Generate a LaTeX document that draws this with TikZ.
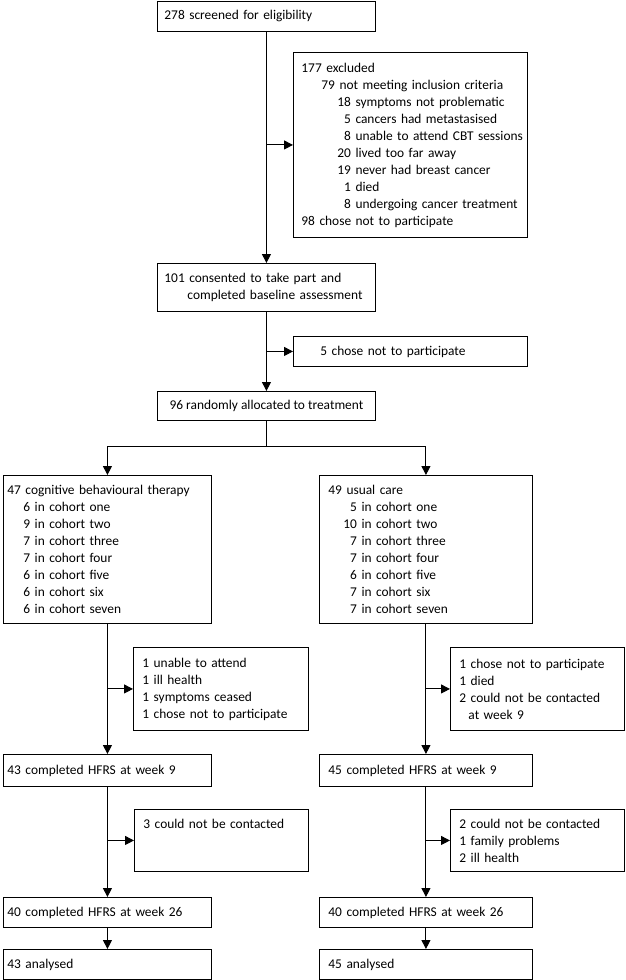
\documentclass[tikz,border=0pt]{standalone}
\usepackage{fontspec}
\setmainfont{Carlito}
\usepackage{tikz}
\usetikzlibrary{arrows.meta}
\tikzstyle{arrow} = [line width=1pt,-{Triangle[length=9pt,width=9pt]}]
\tikzstyle{line} = [line width=1pt]
\tikzstyle{box} = [draw, line width=0.9pt, anchor=north west, align=left, inner ysep=0pt, font=\fontsize{13.4}{17}\selectfont]

\begin{document}
\begin{tikzpicture}[x=1pt,y=-1pt]
	\useasboundingbox (0,0) rectangle (626,980);
	\node[box, inner xsep=7pt, text width=204pt, minimum height=30pt] (screen) at (157,1) {278 screened for eligibility};
	\node[box, inner xsep=8pt, text width=218pt, minimum height=185pt] (excl) at (293,52) {177 excluded\\
		\hspace*{20pt}79 not meeting inclusion criteria\\
		\hspace*{36pt}18 symptoms not problematic\\
		\hspace*{36pt}\phantom{0}5 cancers had metastasised\\
		\mbox{\hspace*{36pt}\phantom{0}8 unable to attend CBT sessions}\\
		\hspace*{36pt}20 lived too far away\\
		\hspace*{36pt}19 never had breast cancer\\
		\hspace*{36pt}\phantom{0}1 died\\
		\mbox{\hspace*{36pt}\phantom{0}8 undergoing cancer treatment}\\
		98 chose not to participate};
	\node[box, inner xsep=7pt, text width=204pt, minimum height=48pt] (consent) at (157,263) {101 consented to take part and\\
		\hspace*{23pt}completed baseline assessment};
	\node[box, inner xsep=27pt, text width=180pt, minimum height=30pt] (decl) at (293,336) {5 chose not to participate};
	\node[box, align=center, inner xsep=0pt, minimum width=218pt, minimum height=29pt] (rand) at (157,391) {96 randomly allocated to treatment};

	\node[box, inner xsep=4pt, text width=200pt, minimum height=148pt] (armA) at (3,475) {47 cognitive behavioural therapy\\
		\hspace*{16pt}6 in cohort one\\
		\hspace*{16pt}9 in cohort two\\
		\hspace*{16pt}7 in cohort three\\
		\hspace*{16pt}7 in cohort four\\
		\hspace*{16pt}6 in cohort five\\
		\hspace*{16pt}6 in cohort six\\
		\hspace*{16pt}6 in cohort seven};
	\node[box, inner xsep=9pt, text width=195pt, minimum height=148pt] (armB) at (319,475) {49 usual care\\
		\hspace*{15pt}\phantom{0}5 in cohort one\\
		\hspace*{15pt}10 in cohort two\\
		\hspace*{15pt}\phantom{0}7 in cohort three\\
		\hspace*{15pt}\phantom{0}7 in cohort four\\
		\hspace*{15pt}\phantom{0}6 in cohort five\\
		\hspace*{15pt}\phantom{0}7 in cohort six\\
		\hspace*{15pt}\phantom{0}7 in cohort seven};

	\node[box, inner xsep=9pt, text width=157pt, minimum height=83pt] (lossA) at (133,647) {1 unable to attend\\1 ill health\\1 symptoms ceased\\1 chose not to participate};
	\node[box, inner xsep=9pt, text width=156pt, minimum height=83pt] (lossB) at (450,647) {1 chose not to participate\\1 died\\2 could not be contacted\\
		\hspace*{9pt}at week 9};

	\node[box, inner xsep=4pt, text width=200pt, minimum height=32pt] (wkA) at (3,754) {43 completed HFRS at week 9};
	\node[box, inner xsep=9pt, text width=195pt, minimum height=32pt] (wkB) at (319,754) {45 completed HFRS at week 9};

	\node[box, inner xsep=9pt, text width=156pt, minimum height=62pt] (dropA) at (134,809) {3 could not be contacted\\\mbox{}\\\mbox{}};
	\node[box, inner xsep=9pt, text width=156pt, minimum height=62pt] (dropB) at (450,809) {2 could not be contacted\\1 family problems\\2 ill health};

	\node[box, inner xsep=4pt, text width=200pt, minimum height=30pt] (endA) at (3,897) {40 completed HFRS at week 26};
	\node[box, inner xsep=9pt, text width=195pt, minimum height=30pt] (endB) at (319,897) {40 completed HFRS at week 26};

	\node[box, inner xsep=4pt, text width=200pt, minimum height=30pt] (anA) at (3,949) {43 analysed};
	\node[box, inner xsep=9pt, text width=195pt, minimum height=30pt] (anB) at (319,949) {45 analysed};

	\draw[arrow] (screen.south) -- (consent.north);
	\draw[arrow] (screen.south |- excl.west) -- (excl.west);
	\draw[arrow] (consent.south) -- (rand.north);
	\draw[arrow] (consent.south |- decl.west) -- (decl.west);
	\coordinate (split) at ([yshift=-26pt]rand.south);
	\draw[line] (rand.south) -- (split);
	\foreach \c in {A,B} {
		\draw[arrow] (split) -| (arm\c.north);
		\draw[arrow] (arm\c.south) -- (wk\c.north);
		\draw[arrow] (arm\c.south |- loss\c.west) -- (loss\c.west);
		\draw[arrow] (wk\c.south) -- (end\c.north);
		\draw[arrow] (wk\c.south |- drop\c.west) -- (drop\c.west);
		\draw[arrow] (end\c.south) -- (an\c.north);
	}
\end{tikzpicture}
\end{document}
